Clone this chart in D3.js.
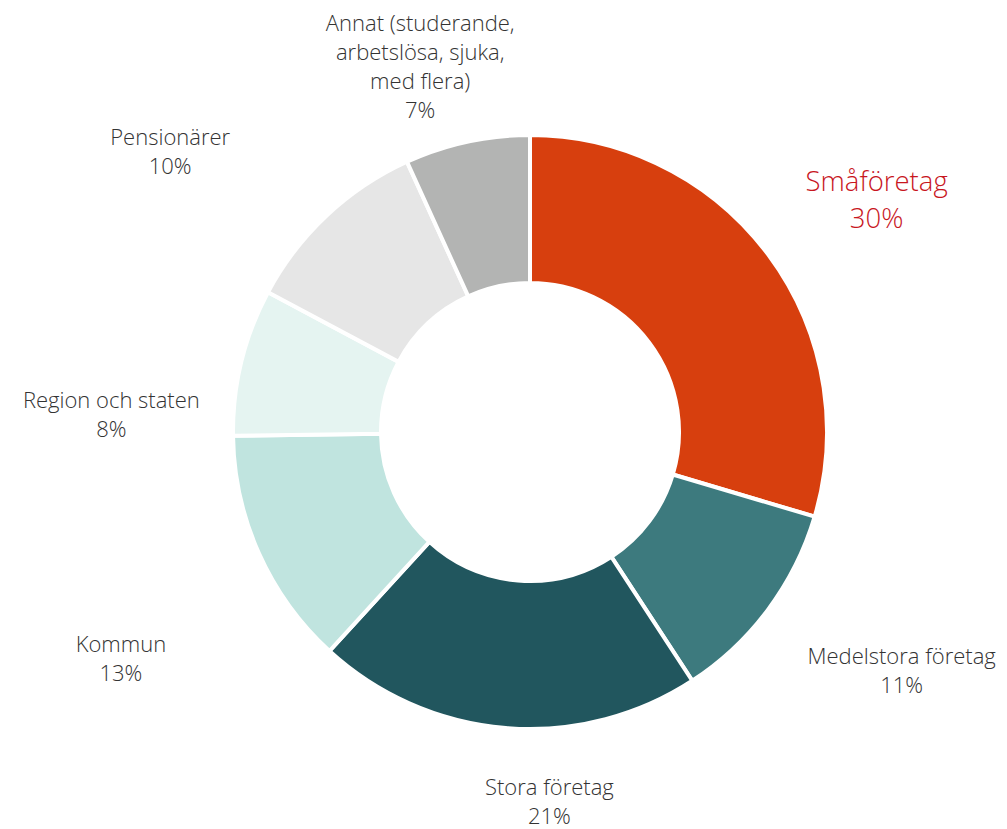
<!DOCTYPE html>
<html>
<head>
<meta charset="utf-8">
<script src="https://cdn.jsdelivr.net/npm/d3@7"></script>
<style>
  html, body { margin: 0; padding: 0; background: #ffffff; }
  svg { display: block; }
  text { font-family: "Open Sans", Lato, sans-serif; font-weight: 300; }
</style>
</head>
<body>
<svg id="chart" width="1007" height="829"></svg>
<script>
// ---- data ----
const categories = ["Småföretag", "Medelstora företag", "Stora företag", "Kommun", "Region och staten", "Pensionärer", "Annat (studerande,\narbetslösa, sjuka,\nmed flera)"];
const values = [29.6, 11.2, 21.0, 13.0, 8.0, 10.4, 6.8];
const colors = ["#d73f0e", "#3d7a7e", "#21565e", "#c0e4df", "#e5f4f1", "#e6e6e6", "#b3b4b3"];
// label nudges relative to outer label arc centroid
const labelNudges = [[26, 7], [51, 0], [52, -29], [-44, 63], [-30, 77], [-86, 11], [-25, 26]];

// ---- layout ----
const width = 1007, height = 829;
const cx = 530, cy = 432;
const outerR = 297, innerR = 149, labelR = 400;

const svg = d3.select("#chart");
const g = svg.append("g").attr("transform", `translate(${cx},${cy})`);

const data = categories.map((c, i) => ({ name: c, value: values[i], color: colors[i], nudge: labelNudges[i] }));
const total = d3.sum(values);

const pie = d3.pie().value(d => d.value).sort(null);
const arc = d3.arc().innerRadius(innerR).outerRadius(outerR);
const labelArc = d3.arc().innerRadius(labelR).outerRadius(labelR);

const arcs = pie(data);

g.selectAll("path.slice")
  .data(arcs)
  .join("path")
  .attr("class", "slice")
  .attr("d", arc)
  .attr("fill", d => d.data.color)
  .attr("stroke", "#ffffff")
  .attr("stroke-width", 4)
  .attr("stroke-linejoin", "miter");

const pct = d3.format(".0%");

arcs.forEach((d, i) => {
  const [x0, y0] = labelArc.centroid(d);
  const x = x0 + d.data.nudge[0];
  const y = y0 + d.data.nudge[1];
  const isMain = i === 0;
  const fs = isMain ? 27.5 : 22;
  const lh = isMain ? 37.5 : 29;
  const lines = d.data.name.split("\n").concat([pct(d.data.value / total)]);
  const t = g.append("text")
    .attr("text-anchor", "middle")
    .attr("font-size", fs)
    .attr("fill", isMain ? "#c8161e" : "#333333");
  const startY = y - (lines.length - 1) * lh / 2;
  lines.forEach((ln, k) => {
    t.append("tspan")
      .attr("x", x)
      .attr("y", startY + k * lh)
      .attr("dy", "0.35em")
      .text(ln);
  });
});
</script>
</body>
</html>
